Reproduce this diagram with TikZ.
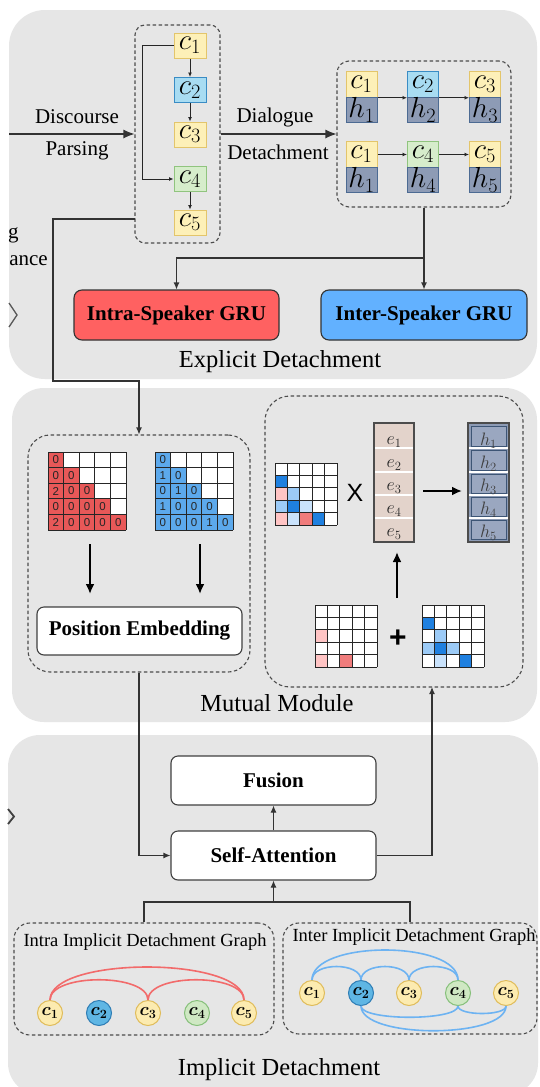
\documentclass[tikz,border=0pt]{standalone}
\usepackage{fix-cm}
\usepackage{fontspec}
\setmainfont{Liberation Serif}
\newfontfamily\sansf{Liberation Sans}
\usetikzlibrary{arrows.meta,calc}
\definecolor{panel}{HTML}{E6E6E6}
\definecolor{cyel}{HTML}{FDF0B8}
\definecolor{cyelb}{HTML}{E3C56B}
\definecolor{cblu}{HTML}{A8DCF2}
\definecolor{cblub}{HTML}{3A8CC4}
\definecolor{cgrn}{HTML}{D6EDCB}
\definecolor{cgrnb}{HTML}{90C47E}
\definecolor{hfill}{HTML}{8D9BB5}
\definecolor{hbord}{HTML}{4C6A92}
\definecolor{gred}{HTML}{FF6161}
\definecolor{gblue}{HTML}{62B1FF}
\definecolor{mred}{HTML}{E85858}
\definecolor{mblue}{HTML}{5CA9EC}
\definecolor{dblue}{HTML}{1F80E0}
\definecolor{lblue}{HTML}{9CCBF7}
\definecolor{llblue}{HTML}{C9E2FB}
\definecolor{lpink}{HTML}{FFC4C4}
\definecolor{salmon}{HTML}{F07C7C}
\definecolor{efill}{HTML}{E3D3CB}
\definecolor{hcell}{HTML}{9AA7C0}
\definecolor{cir}{HTML}{FCEBB0}
\definecolor{cirb}{HTML}{E0BC5A}
\definecolor{cirblue}{HTML}{5FB6E4}
\definecolor{cirblueb}{HTML}{2E7DB5}
\definecolor{cirgrn}{HTML}{CFE8C3}
\definecolor{cirgrnb}{HTML}{86C07A}
\definecolor{redge}{HTML}{F26B6B}
\definecolor{bedge}{HTML}{6DB3F2}

\tikzset{
  conn/.style={draw=black!80, line width=1.1},
  arr/.style={conn, -{Latex[length=7,width=6]}},
  bigtip/.style={conn, -{Latex[length=11,width=9]}},
  sarr/.style={draw=black!85, line width=0.9, -{Latex[length=4.5,width=4]}},
  thickarr/.style={draw=black, line width=2, -{Latex[length=10,width=9]}},
  dashbox/.style={draw=black!70, line width=1.1, dash pattern=on 3.5pt off 2.5pt, inner sep=0},
  lbl/.style={font=\fontsize{21}{24}\selectfont, inner sep=0},
  ttl/.style={font=\fontsize{24.5}{28}\selectfont, inner sep=0},
  gtl/.style={font=\fontsize{18.5}{21}\selectfont, inner sep=0},
  wbox/.style={draw=black!75, fill=white, rounded corners=7, line width=1.1,
    font=\fontsize{21}{24}\selectfont\bfseries, inner sep=0, minimum width=205, minimum height=49},
  cbox/.style={draw=cyelb, fill=cyel, line width=1, inner sep=0, minimum width=32, minimum height=25,
    font=\fontsize{29}{29}\selectfont},
  tbox/.style={cbox, minimum width=31, minimum height=25.5},
  hbox/.style={tbox, draw=hbord, fill=hfill},
  circ/.style={circle, draw=cirb, fill=cir, line width=1, minimum size=25, inner sep=0,
    font=\fontsize{18}{18}\selectfont\boldmath},
  redg/.style={draw=redge, line width=1.6},
  blueg/.style={draw=bedge, line width=1.6},
  clab/.style={font=\fontsize{18}{18}\selectfont, inner sep=0},
}

\newcommand\nummat[5]{% name, x, y, colour, r/c/value list
  \begin{scope}[shift={(#2,#3)}]
    \fill[white] (0,0) rectangle (78,78);
    \foreach \r/\c/\v in {#5}{
      \fill[#4] ({(\c-1)*15.6},{(\r-1)*15.6}) rectangle ({\c*15.6},{\r*15.6});
      \node[font=\sansf\fontsize{11.5}{12}\selectfont, text=black!85, inner sep=0]
        (#1-\r-\c) at ({(\c-0.5)*15.6},{(\r-0.5)*15.6}) {\v};
    }
    \foreach \i in {0,...,5}{
      \draw[black!85, line width=1] ({\i*15.6},0) -- ({\i*15.6},78);
      \draw[black!85, line width=1] (0,{\i*15.6}) -- (78,{\i*15.6});
    }
  \end{scope}}

\newcommand\colmat[3]{% x, y, r/c/colour list
  \begin{scope}[shift={(#1,#2)}]
    \fill[white] (0,0) rectangle (62,62);
    \foreach \r/\c/\k in {#3}{
      \fill[\k] ({(\c-1)*12.4},{(\r-1)*12.4}) rectangle ({\c*12.4},{\r*12.4});
    }
    \foreach \i in {0,...,5}{
      \draw[black!85, line width=1] ({\i*12.4},0) -- ({\i*12.4},62);
      \draw[black!85, line width=1] (0,{\i*12.4}) -- (62,{\i*12.4});
    }
  \end{scope}}

\begin{document}
\begin{tikzpicture}[x=1pt, y=-1pt]
\useasboundingbox (0,0) rectangle (539,1087);
\fill[white] (0,0) rectangle (539,1087);

% ---------- panels ----------
\fill[panel, rounded corners=36] (9,10) rectangle (537,379);
\fill[panel, rounded corners=32] (12,388) rectangle (537,722);
\fill[panel, rounded corners=32] (8,735) rectangle (538,1095);

% cut-off fragments at left edge
\node[lbl, anchor=west] (frg) at (8,235) {g};
\node[lbl, anchor=east] (france) at (48,261) {ance};
\draw[black!65, line width=1.3] (9,303) -- (17,315) -- (9,327);
\draw[black!75, line width=1.8] (8,809) -- (14,816.5) -- (8,824);

% ---------- Explicit detachment ----------
\node[dashbox, rounded corners=10, minimum width=85, minimum height=218] (box1) at (177.5,134) {};
\node[cbox] (c1) at (190,45.5) {$c_1$};
\node[cbox, draw=cblub, fill=cblu] (c2) at (190,90) {$c_2$};
\node[cbox] (c3) at (190,134.5) {$c_3$};
\node[cbox, draw=cgrnb, fill=cgrn] (c4) at (190,179) {$c_4$};
\node[cbox] (c5) at (190,222.5) {$c_5$};
\draw[sarr] (c1) -- (c2);
\draw[sarr] (c2) -- (c3);
\draw[sarr] (c4) -- (c5);
\draw[sarr] (c1.west) -- ++(-31,0) |- (c4.west);

\coordinate (dstart) at (9,134);
\draw[bigtip] (dstart) -- (box1.west);
\node[lbl] (tdisc) at (77,117) {Discourse};
\node[lbl] (tpars) at (77,151) {Parsing};

\node[dashbox, rounded corners=12, minimum width=174, minimum height=146] (box2) at (424,134) {};
\draw[bigtip] (box1.east) -- (box2.west);
\node[lbl] (tdial) at (275,117) {Dialogue};
\node[lbl] (tdet) at (278,152) {Detachment};

% top row
\node[tbox] (ta1) at (361.5,84.5) {$c_1$};
\node[hbox] (ha1) at (361.5,110) {$h_1$};
\node[tbox, draw=cblub, fill=cblu] (ta2) at (423,84.5) {$c_2$};
\node[hbox] (ha2) at (423,110) {$h_2$};
\node[tbox] (ta3) at (485,84.5) {$c_3$};
\node[hbox] (ha3) at (485,110) {$h_3$};
% bottom row
\node[tbox] (tb1) at (361.5,154.5) {$c_1$};
\node[hbox] (hb1) at (361.5,180) {$h_1$};
\node[tbox, draw=cgrnb, fill=cgrn] (tb4) at (423,154.5) {$c_4$};
\node[hbox] (hb4) at (423,180) {$h_4$};
\node[tbox] (tb5) at (485,154.5) {$c_5$};
\node[hbox] (hb5) at (485,180) {$h_5$};
\draw[sarr] (ta1.south east) -- (ta2.south west);
\draw[sarr] (ta2.south east) -- (ta3.south west);
\draw[sarr] (tb1.east) -- (tb4.west);
\draw[sarr] (tb4.east) -- (tb5.west);

\node[draw=black!80, fill=gred, rounded corners=8, line width=1.1, minimum width=205, minimum height=50,
  inner sep=0, font=\fontsize{21}{24}\selectfont\bfseries] (intra) at (176.5,315) {Intra-Speaker GRU};
\node[draw=black!80, fill=gblue, rounded corners=8, line width=1.1, minimum width=206, minimum height=50,
  inner sep=0, font=\fontsize{21}{24}\selectfont\bfseries] (inter) at (424,315) {Inter-Speaker GRU};
\coordinate (br) at (424,258);
\draw[arr] (box2.south) -- (inter.north);
\draw[arr] (br) -| (intra.north);
\node[ttl] (texp) at (280,362) {Explicit Detachment};

% ---------- Mutual module ----------
\node[dashbox, rounded corners=22, minimum width=222, minimum height=237] (pedash) at (139,553.5) {};
\node[dashbox, rounded corners=25, minimum width=258, minimum height=291] (mmdash) at (394,541.5) {};

\coordinate (b1out) at (135,219);
\draw[arr] (b1out) -| (53,381) -| (pedash.north);

\nummat{rm}{48}{452}{mred}{1/1/0, 2/1/0, 2/2/0, 3/1/2, 3/2/0, 3/3/0, 4/1/0, 4/2/0, 4/3/0, 4/4/0, 5/1/2, 5/2/0, 5/3/0, 5/4/0, 5/5/0}
\nummat{bm}{155}{452}{mblue}{1/1/0, 2/1/1, 2/2/0, 3/1/0, 3/2/1, 3/3/0, 4/1/1, 4/2/0, 4/3/0, 4/4/0, 5/1/0, 5/2/0, 5/3/0, 5/4/1, 5/5/0}

\node[wbox, minimum height=48] (pe) at (139.5,631) {Position Embedding};
\coordinate (ra1) at (90,544);
\coordinate (ra2) at (90,594);
\coordinate (rb1) at (200,544);
\coordinate (rb2) at (200,594);
\draw[thickarr] (ra1) -- (ra2);
\draw[thickarr] (rb1) -- (rb2);

% attention matrix x e -> h
\colmat{275}{463}{2/1/dblue, 3/1/lpink, 3/2/lblue, 4/1/lblue, 4/2/dblue, 4/3/llblue, 5/1/lpink, 5/2/llblue, 5/3/salmon, 5/4/dblue}
\node[font=\sansf\fontsize{25}{25}\selectfont, inner sep=0] (times) at (355,493) {X};

\node[draw=black!70, fill=efill, line width=1.1, minimum width=40, minimum height=119, inner sep=0] (ecol) at (394,482.5) {};
\foreach \yy in {448,472,495,518}{\draw[white, line width=2.6] (375,\yy) -- (413,\yy);}
\foreach \i/\yy in {1/442,2/465,3/488,4/511,5/534}{
  \node[clab, text=black!85] (e\i) at (394,\yy) {$e_{\i}$};}

\node[draw=black!70, fill=hfill, line width=1.1, minimum width=41, minimum height=119, inner sep=0] (hcol) at (488.5,482.5) {};
\foreach \ya/\yb in {426/446, 450/470, 474/493, 497/516, 520/539}{
  \draw[hbord!80!black, fill=hcell, line width=0.8] (471,\ya) rectangle (506,\yb);}
\foreach \yy in {448,472,495,518}{\draw[white, line width=2.6] (469,\yy) -- (508,\yy);}
\foreach \i/\yy in {1/441,2/464,3/487,4/510,5/533}{
  \node[clab, text=black!75] (h\i) at (488.5,\yy) {$h_{\i}$};}

\coordinate (ea) at (423,491);
\coordinate (ha) at (462,491);
\draw[thickarr] (ea) -- (ha);

\colmat{315}{605}{3/1/lpink, 5/1/lpink, 5/3/salmon}
\node[font=\sansf\bfseries\fontsize{30}{30}\selectfont, inner sep=0] (plus) at (398,639) {+};
\colmat{422}{605}{2/1/dblue, 3/2/lblue, 4/1/lblue, 4/2/dblue, 4/3/lblue, 5/2/llblue, 5/4/dblue}
\coordinate (ua) at (397,598);
\coordinate (ub) at (397,552);
\draw[thickarr] (ua) -- (ub);

\node[ttl] (tmm) at (277,703) {Mutual Module};

% ---------- Implicit detachment ----------
\node[wbox] (fus) at (273.5,780.5) {Fusion};
\node[wbox] (sa) at (273.5,855.5) {Self-Attention};
\draw[arr] (sa) -- (fus);
\draw[arr] (pedash.south) |- (sa.west);
\coordinate (mmin) at (432,687);
\draw[arr] (sa.east) -| (mmin);

\node[dashbox, rounded corners=16, minimum width=260, minimum height=112] (intrag) at (144,979) {};
\node[dashbox, rounded corners=16, minimum width=254, minimum height=111] (interg) at (410,978.5) {};
\coordinate (jn) at (273.5,902);
\draw[conn] (intrag.north) |- (jn) -| (interg.north);
\draw[arr] (jn) -- (sa.south);

\node[gtl] (tintra) at (145,942) {Intra Implicit Detachment Graph};
\node[gtl] (tinter) at (414,937) {Inter Implicit Detachment Graph};

\node[circ] (i1) at (50,1013) {$c_1$};
\node[circ, draw=cirblueb, fill=cirblue] (i2) at (99,1013) {$c_2$};
\node[circ] (i3) at (148,1013) {$c_3$};
\node[circ, draw=cirgrnb, fill=cirgrn] (i4) at (197,1013) {$c_4$};
\node[circ] (i5) at (244,1013) {$c_5$};
\draw[redg] (i1.north) .. controls +(0,-44) and +(0,-44) .. (i5.north);
\draw[redg] (i1.north) .. controls +(0,-27) and +(0,-27) .. (i3.north);
\draw[redg] (i3.north) .. controls +(0,-27) and +(0,-27) .. (i5.north);

\node[circ] (n1) at (312,993) {$c_1$};
\node[circ, draw=cirblueb, fill=cirblue] (n2) at (361,993) {$c_2$};
\node[circ] (n3) at (409,993) {$c_3$};
\node[circ, draw=cirgrnb, fill=cirgrn] (n4) at (458,993) {$c_4$};
\node[circ] (n5) at (506,993) {$c_5$};
\draw[blueg] (n1.north) .. controls +(0,-40) and +(0,-40) .. (n4.north);
\draw[blueg] (n1.north) .. controls +(0,-18) and +(0,-18) .. (n2.north);
\draw[blueg] (n2.north) .. controls +(0,-18) and +(0,-18) .. (n3.north);
\draw[blueg] (n3.north) .. controls +(0,-18) and +(0,-18) .. (n4.north);
\draw[blueg] (n2.south) .. controls +(0,33) and +(0,33) .. (n5.south);
\draw[blueg] (n2.south) .. controls +(0,15) and +(0,15) .. (n4.south);
\draw[blueg] (n4.south) .. controls +(0,10) and +(0,10) .. (n5.south);

\node[ttl] (timp) at (279,1070) {Implicit Detachment};
\end{tikzpicture}
\end{document}
